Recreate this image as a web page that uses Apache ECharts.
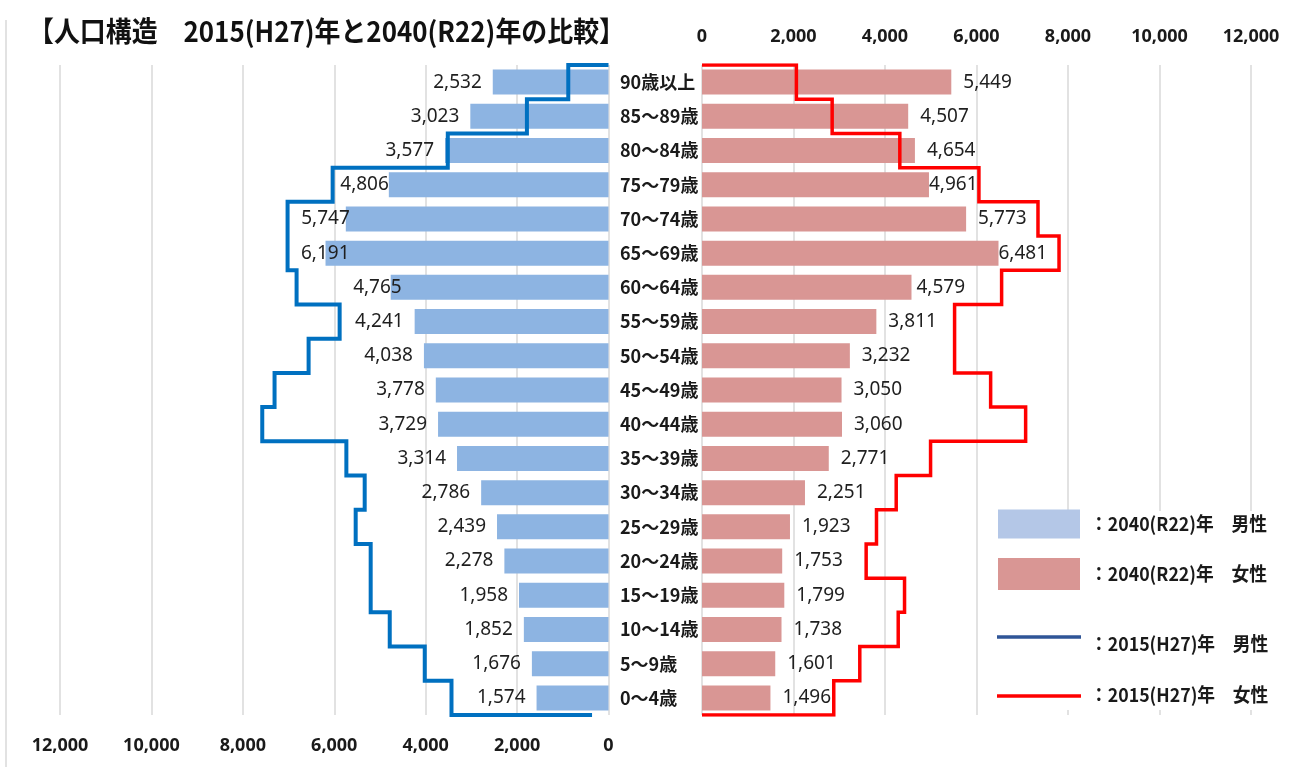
<!DOCTYPE html>
<html lang="ja">
<head>
<meta charset="utf-8">
<title>人口構造 2015(H27)年と2040(R22)年の比較</title>
<script src="https://cdn.jsdelivr.net/npm/echarts@6/dist/echarts.min.js"></script>
<style>
  html, body { margin: 0; padding: 0; background: #ffffff; }
  #chart { width: 1291px; height: 767px; }
</style>
</head>
<body>
<div id="chart"></div>
<script>
// Age groups, oldest at the top
const categories = [
  '90歳以上', '85～89歳', '80～84歳', '75～79歳', '70～74歳', '65～69歳',
  '60～64歳', '55～59歳', '50～54歳', '45～49歳', '40～44歳', '35～39歳',
  '30～34歳', '25～29歳', '20～24歳', '15～19歳', '10～14歳', '5～9歳', '0～4歳'
];

// 2040 (R22) projection, bars
const male2040 = [2532, 3023, 3577, 4806, 5747, 6191, 4765, 4241, 4038, 3778,
                  3729, 3314, 2786, 2439, 2278, 1958, 1852, 1676, 1574];
const female2040 = [5449, 4507, 4654, 4961, 5773, 6481, 4579, 3811, 3232, 3050,
                    3060, 2771, 2251, 1923, 1753, 1799, 1738, 1601, 1496];

// 2015 (H27) actual, step outlines
const male2015 = [880, 1785, 3516, 6035, 7021, 7021, 6824, 5882, 6561, 7306,
                  7575, 5735, 5334, 5531, 5203, 5203, 4786, 4020, 3435];
const female2015 = [2063, 2845, 4324, 6053, 7344, 7804, 6549, 5521, 5521, 6309,
                    7074, 4996, 4245, 3814, 3588, 4427, 4289, 3449, 2880];
// where each outline starts (top edge) and stops (bottom edge)
const male2015Ends = [0, 360];
const female2015Ends = [0, 0];

// value axis ticks
const axisTicks = [0, 2000, 4000, 6000, 8000, 10000, 12000];

// small label nudges (px) where a label sits over its bar end
const maleLabelShift = { '75～79歳': 11, '70～74歳': 15, '65～69歳': 35, '60～64歳': 22 };
const femaleLabelShift = { '75～79歳': -12, '65～69歳': -12, '60～64歳': -7 };

const JP = '"Noto Sans CJK JP", "Noto Sans", sans-serif';
const LAT = '"Noto Sans", "Liberation Sans", sans-serif';
const fmt = v => Number(v).toLocaleString('en-US');

function stepOutline(values, ends) {
  const pts = [[ends[0], 0]];
  values.forEach((v, i) => { pts.push([v, i]); pts.push([v, i + 1]); });
  pts.push([ends[1], values.length]);
  return pts;
}

function fitScale(text, font, target) {
  const ctx = document.createElement('canvas').getContext('2d');
  ctx.font = font;
  const w = ctx.measureText(text).width;
  return w > 0 ? target / w : 1;
}

const gridTop = 65, gridHeight = 650;
const tickMin = axisTicks[0];
const tickMax = axisTicks[axisTicks.length - 1];
const tickStep = axisTicks[1] - axisTicks[0];

function valueAxis(gridIndex, inverse, position, margin) {
  return {
    type: 'value', gridIndex, inverse, position,
    min: tickMin, max: tickMax, interval: tickStep,
    axisLine: { show: false }, axisTick: { show: false },
    axisLabel: {
      margin, formatter: fmt, color: '#1a1a1a',
      fontFamily: LAT, fontWeight: 'bold', fontSize: 18
    },
    splitLine: { show: true, lineStyle: { color: '#d9d9d9', width: 1.5 } }
  };
}

function hiddenLevelAxis(gridIndex) {
  return { type: 'value', gridIndex, min: 0, max: categories.length, inverse: true, show: false };
}

const titleText = '【人口構造　2015(H27)年と2040(R22)年の比較】';
const titleFont = `bold 28px ${JP}`;
const titleScale = fitScale(titleText, titleFont, 597);

const legendFont = `bold 19px ${JP}`;
const legendItems = [
  { kind: 'rect', color: '#B4C7E7', text: '：2040(R22)年　男性', y: 524, h: 29 },
  { kind: 'rect', color: '#D99694', text: '：2040(R22)年　女性', y: 574, h: 32 },
  { kind: 'line', color: '#2F5597', text: '：2015(H27)年　男性', y: 637 },
  { kind: 'line', color: '#FF0000', text: '：2015(H27)年　女性', y: 696 }
];
const legendScale = fitScale(legendItems[0].text, legendFont, 177);

const graphics = [
  { type: 'line', silent: true, shape: { x1: 6, y1: 20, x2: 6, y2: 767 },
    style: { stroke: '#d9d9d9', lineWidth: 1.5 } },
  { type: 'text', silent: true, x: 28, y: 31, scaleX: titleScale,
    style: { text: titleText, font: titleFont, fill: '#111111',
             textAlign: 'left', textVerticalAlign: 'middle' } },
  { type: 'rect', silent: true, z: 10, shape: { x: 990, y: 511, width: 301, height: 199 },
    style: { fill: '#ffffff' } }
];
legendItems.forEach(it => {
  const textY = it.kind === 'rect' ? it.y : it.y + (it.color === '#FF0000' ? -1 : 7);
  if (it.kind === 'rect') {
    graphics.push({ type: 'rect', silent: true, z: 11,
      shape: { x: 998, y: it.y - it.h / 2, width: 82, height: it.h },
      style: { fill: it.color } });
  } else {
    graphics.push({ type: 'line', silent: true, z: 11,
      shape: { x1: 997, y1: it.y, x2: 1081, y2: it.y },
      style: { stroke: it.color, lineWidth: 3.5 } });
  }
  graphics.push({ type: 'text', silent: true, z: 11, x: 1090, y: textY, scaleX: legendScale,
    style: { text: it.text, font: legendFont, fill: '#1a1a1a',
             textAlign: 'left', textVerticalAlign: 'middle' } });
});

const chart = echarts.init(document.getElementById('chart'), null, { renderer: 'canvas' });

chart.setOption({
  animation: false,
  backgroundColor: '#ffffff',
  grid: [
    { left: 60, width: 548.5, top: gridTop, height: gridHeight },
    { left: 702, width: 549, top: gridTop, height: gridHeight }
  ],
  xAxis: [
    valueAxis(0, true, 'bottom', 22),
    valueAxis(1, false, 'top', 19)
  ],
  yAxis: [
    { type: 'category', gridIndex: 0, data: categories, inverse: true,
      axisLine: { show: false }, axisTick: { show: false }, axisLabel: { show: false } },
    { type: 'category', gridIndex: 1, data: categories, inverse: true,
      axisLine: { show: false }, axisTick: { show: false },
      axisLabel: { align: 'left', margin: 82, color: '#1a1a1a',
                   fontFamily: JP, fontWeight: 'bold', fontSize: 18 } },
    hiddenLevelAxis(0),
    hiddenLevelAxis(1)
  ],
  series: [
    {
      name: '2040(R22)年 男性', type: 'bar', xAxisIndex: 0, yAxisIndex: 0,
      barWidth: 25, silent: true,
      itemStyle: { color: '#8DB4E2' },
      data: male2040.map((v, i) => ({
        value: v,
        label: { offset: [maleLabelShift[categories[i]] || 0, 0] }
      })),
      label: { show: true, position: 'left', distance: 11, formatter: p => fmt(p.value),
               color: '#1f1f1f', fontFamily: LAT, fontSize: 19 }
    },
    {
      name: '2040(R22)年 女性', type: 'bar', xAxisIndex: 1, yAxisIndex: 1,
      barWidth: 25, silent: true,
      itemStyle: { color: '#D99694' },
      data: female2040.map((v, i) => ({
        value: v,
        label: { offset: [femaleLabelShift[categories[i]] || 0, 0] }
      })),
      label: { show: true, position: 'right', distance: 12, formatter: p => fmt(p.value),
               color: '#1f1f1f', fontFamily: LAT, fontSize: 19 }
    },
    {
      name: '2015(H27)年 男性', type: 'line', xAxisIndex: 0, yAxisIndex: 2,
      data: stepOutline(male2015, male2015Ends), symbol: 'none', silent: true, z: 5,
      lineStyle: { color: '#0070C0', width: 4, join: 'miter' }
    },
    {
      name: '2015(H27)年 女性', type: 'line', xAxisIndex: 1, yAxisIndex: 3,
      data: stepOutline(female2015, female2015Ends), symbol: 'none', silent: true, z: 5,
      lineStyle: { color: '#FF0000', width: 3.5, join: 'miter' }
    }
  ],
  graphic: graphics
});
</script>
</body>
</html>
